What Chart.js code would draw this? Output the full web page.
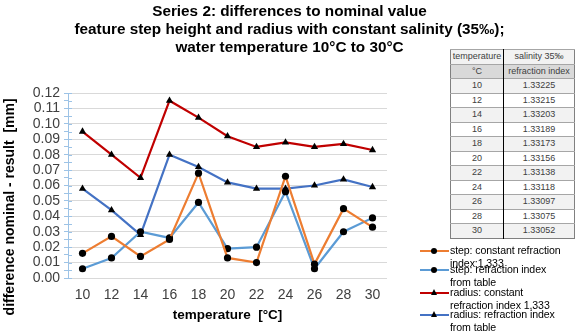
<!DOCTYPE html>
<html>
<head>
<meta charset="utf-8">
<script src="https://cdn.jsdelivr.net/npm/chart.js@4.4.0/dist/chart.umd.min.js"></script>
<style>
  body { margin: 0; background: #fff; font-family: "Liberation Sans", Arial, sans-serif; }
  #wrap { position: relative; width: 579px; height: 334px; overflow: hidden; }
  #mycanvas { position: absolute; left: 0; top: 0; }
  #title { position: absolute; left: 0; top: 2px; width: 579px; text-align: center;
           font-weight: bold; font-size: 15.3px; line-height: 18px; color: #000; }
  #tbl { position: absolute; left: 450px; top: 49px; border-collapse: collapse;
         font-size: 9px; color: #404040; border: 1px solid #808080; }
  #tbl td { height: 13.5px; padding: 0; text-align: center; border-top: 1px solid #a6a6a6; line-height: 13px; }
  #tbl td:first-child { width: 52px; border-right: 1.5px solid #000; }
  #tbl td:last-child { width: 70px; }
  #legend { position: absolute; left: 418px; top: 244px; font-size: 10.6px; color: #000; }
  .item { position: absolute; left: 0; width: 160px; }
  .sample { position: absolute; left: 2px; top: 6px; width: 29px; height: 0; border-top: 2.5px solid; }
  .dot { position: absolute; left: 11px; top: -4.5px; width: 6px; height: 6px; border-radius: 50%; background: #000; }
  .tri { position: absolute; left: 11px; top: -5.5px; width: 0; height: 0;
         border-left: 3.5px solid transparent; border-right: 3.5px solid transparent; border-bottom: 6px solid #000; }
  .txt { position: absolute; left: 32px; top: 0; line-height: 12.5px; white-space: nowrap; letter-spacing: -0.1px; }
</style>
</head>
<body>
<div id="wrap">
  <canvas id="mycanvas" width="579" height="334"></canvas>
  <div id="title">Series 2: differences to nominal value<br>feature step height and radius with constant salinity (35‰);<br>water temperature 10°C to 30°C</div>
  <table id="tbl"></table>
  <div id="legend"></div>
</div>
<script>
// x categories (temperature in °C)
var temps = ['10', '12', '14', '16', '18', '20', '22', '24', '26', '28', '30'];

// series values [mm]
var stepConst   = [0.016, 0.027, 0.014, 0.025, 0.068, 0.013, 0.010, 0.066, 0.009, 0.045, 0.033];
var stepTable   = [0.006, 0.013, 0.030, 0.026, 0.049, 0.019, 0.020, 0.056, 0.006, 0.030, 0.039];
var radiusConst = [0.095, 0.080, 0.065, 0.115, 0.104, 0.092, 0.085, 0.088, 0.085, 0.087, 0.083];
var radiusTable = [0.058, 0.044, 0.028, 0.080, 0.072, 0.062, 0.058, 0.058, 0.060, 0.064, 0.059];

var seriesNames = [
    ['step: constant refraction', 'index:1,333'],
    ['step: refraction index', 'from table'],
    ['radius: constant', 'refraction index 1,333'],
    ['radius: refraction index', 'from table']
];

// refraction index table
var tableTemps = ['10', '12', '14', '16', '18', '20', '22', '24', '26', '28', '30'];
var tableIndex = ['1.33225', '1.33215', '1.33203', '1.33189', '1.33173', '1.33156',
                  '1.33138', '1.33118', '1.33097', '1.33075', '1.33052'];

var colors = ['#ed7d31', '#5b9bd5', '#c00000', '#4472c4'];
var markers = ['circle', 'circle', 'triangle', 'triangle'];
var values = [stepConst, stepTable, radiusConst, radiusTable];

var datasets = [];
for (var i = 0; i < values.length; i++) {
    datasets.push({
        label: seriesNames[i].join(' '),
        data: values[i],
        borderColor: colors[i],
        borderWidth: 2.2,
        pointStyle: markers[i],
        pointRadius: markers[i] === 'circle' ? 3.6 : 4.2,
        pointBackgroundColor: '#000',
        pointBorderColor: '#000',
        pointBorderWidth: 0,
        tension: 0
    });
}

var tickFont = { family: 'Liberation Sans', size: 14 };

// the y axis has small ticks crossing the line on both sides
var crossTicks = {
    id: 'crossTicks',
    afterDraw: function(chart) {
        var y = chart.scales.y, c = chart.ctx, x0 = chart.chartArea.left;
        c.save();
        c.strokeStyle = '#9dc3e6';
        c.lineWidth = 1;
        y.ticks.forEach(function(t, k) {
            var py = Math.round(y.getPixelForTick(k)) + 0.5;
            c.beginPath();
            c.moveTo(x0, py);
            c.lineTo(x0 + 4, py);
            c.stroke();
        });
        c.restore();
    }
};

var ctx = document.getElementById('mycanvas');
var lineChart = new Chart(ctx, {
    type: 'line',
    data: { labels: temps, datasets: datasets },
    plugins: [crossTicks],
    options: {
        responsive: false,
        animation: false,
        layout: { padding: { left: 2, right: 192, top: 93, bottom: 0 } },
        plugins: {
            legend: { display: false },
            title: { display: false },
            tooltip: { enabled: false }
        },
        scales: {
            x: {
                offset: true,
                grid: { display: false },
                border: { display: false },
                ticks: { font: tickFont, color: '#404040', padding: 1 },
                title: { display: true, text: 'temperature  [°C]', font: { family: 'Liberation Sans', size: 13.5, weight: 'bold' }, color: '#000', padding: { top: 0, bottom: 11 } },
                afterFit: function(s) { s.height = 56; }
            },
            y: {
                min: 0,
                max: 0.12,
                ticks: {
                    stepSize: 0.005,
                    autoSkip: false,
                    font: tickFont,
                    color: '#404040',
                    padding: 4,
                    callback: function(v, idx) { return idx % 2 === 0 ? v.toFixed(2) : ''; }
                },
                grid: {
                    color: function(c) { return c.index % 2 === 0 ? '#d9d9d9' : 'rgba(0,0,0,0)'; },
                    tickColor: '#9dc3e6',
                    tickLength: 4
                },
                border: { color: '#9dc3e6' },
                title: { display: true, text: 'difference nominal - result  [mm]           ', font: { family: 'Liberation Sans', size: 14, weight: 'bold' }, color: '#000', padding: 0 },
                afterFit: function(s) { s.width = 66; }
            }
        }
    }
});

// table
var tbl = document.getElementById('tbl');
var rows = [['temperature', 'salinity 35‰', '#f2f2f2'], ['°C', 'refraction index', '#d9d9d9']];
for (var r = 0; r < tableTemps.length; r++) {
    rows.push([tableTemps[r], tableIndex[r], r % 2 === 0 ? '#f2f2f2' : '#ffffff']);
}
rows.forEach(function(row) {
    var tr = document.createElement('tr');
    tr.style.background = row[2];
    tr.innerHTML = '<td>' + row[0] + '</td><td>' + row[1] + '</td>';
    tbl.appendChild(tr);
});

// legend
var legend = document.getElementById('legend');
var tops = [0, 19, 42, 64];
seriesNames.forEach(function(name, k) {
    var it = document.createElement('div');
    it.className = 'item';
    it.style.top = tops[k] + 'px';
    var mk = markers[k] === 'circle' ? '<div class="dot"></div>' : '<div class="tri"></div>';
    it.innerHTML = '<div class="sample" style="border-color:' + colors[k] + '">' + mk + '</div>' +
                   '<div class="txt">' + name.join('<br>') + '</div>';
    legend.appendChild(it);
});
</script>
</body>
</html>
